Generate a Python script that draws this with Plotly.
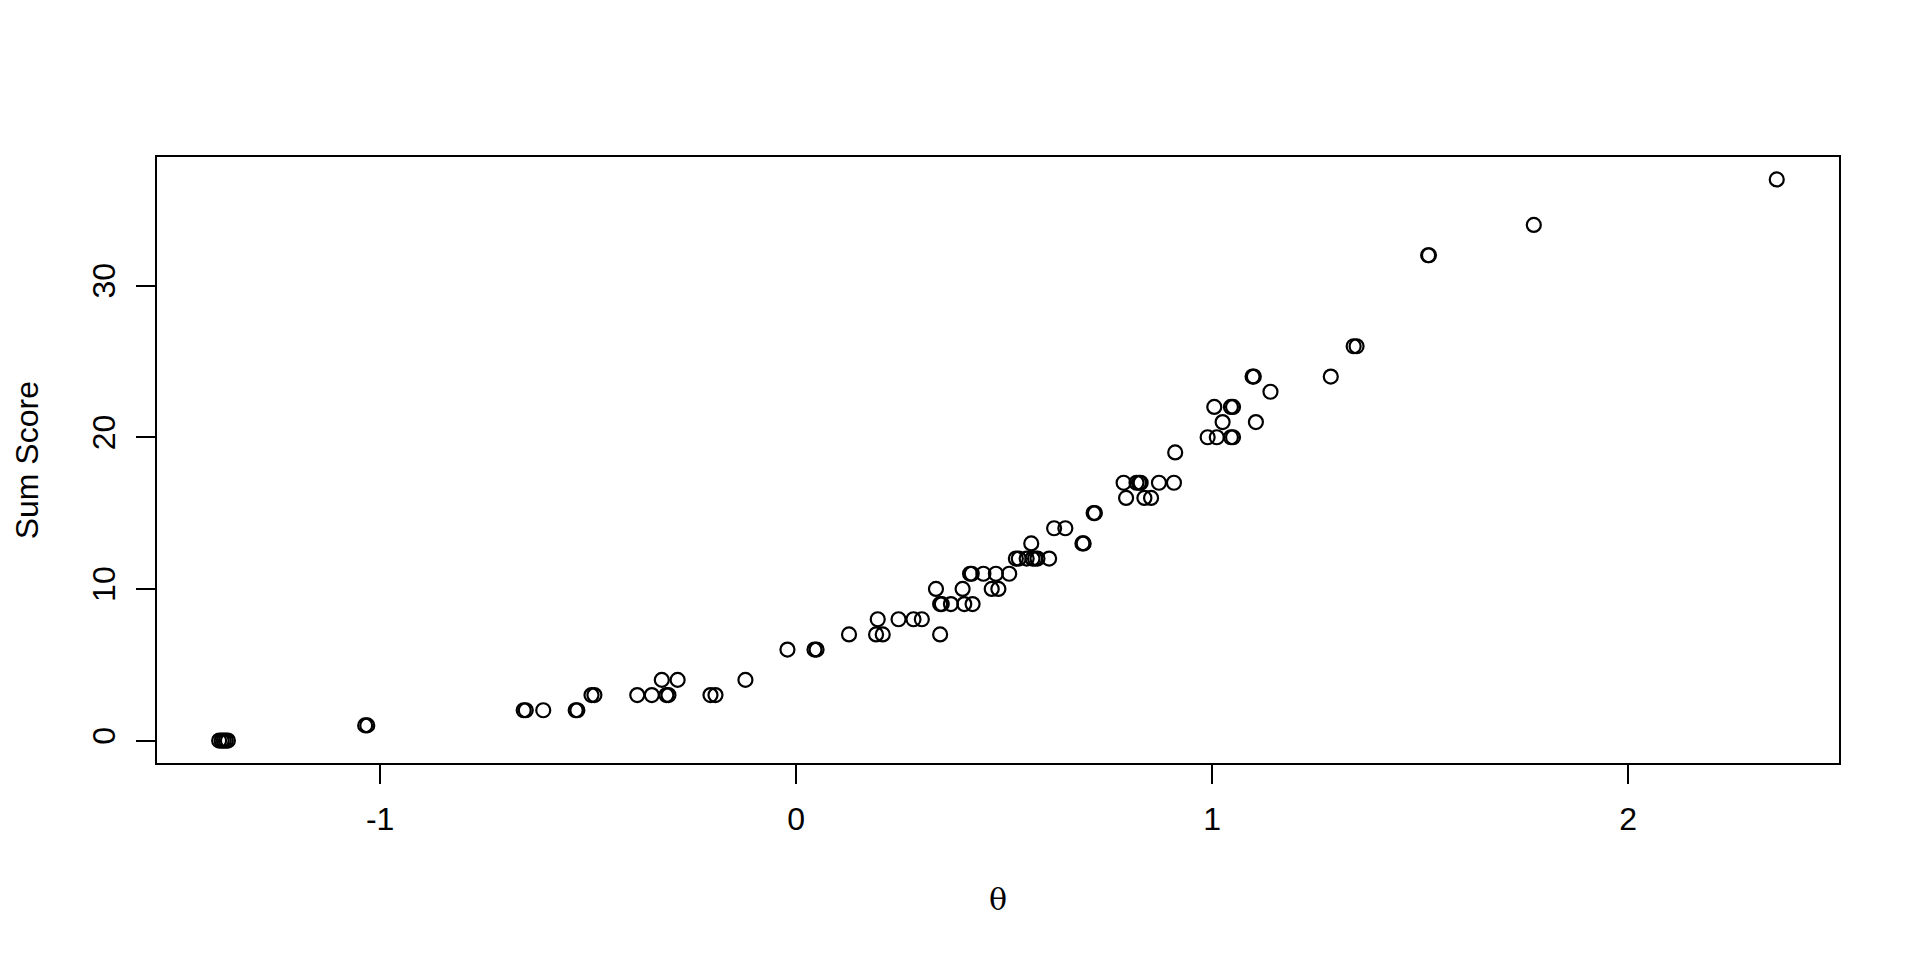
import plotly.graph_objects as go

# theta estimates (x) and corresponding sum scores (y)
theta = [
    -1.387, -1.381, -1.376, -1.371, -1.366,
    -1.036, -1.031,
    -0.655, -0.650, -0.608, -0.530, -0.526,
    -0.492, -0.485, -0.382, -0.347, -0.312, -0.307, -0.206, -0.194,
    -0.323, -0.285, -0.122,
    -0.021, 0.044, 0.049,
    0.127, 0.192, 0.208, 0.346,
    0.196, 0.246, 0.282, 0.302,
    0.346, 0.350, 0.372, 0.404, 0.424,
    0.336, 0.400, 0.470, 0.486,
    0.418, 0.422, 0.450, 0.480, 0.512,
    0.528, 0.535, 0.554, 0.568, 0.574, 0.580, 0.608,
    0.565, 0.688, 0.691,
    0.620, 0.647,
    0.715, 0.718,
    0.793, 0.837, 0.853,
    0.787, 0.818, 0.824, 0.828, 0.872, 0.908,
    0.911,
    0.989, 1.011, 1.045, 1.050,
    1.025, 1.105,
    1.005, 1.045, 1.050,
    1.140,
    1.097, 1.100, 1.285,
    1.340, 1.347,
    1.519, 1.521,
    1.773,
    2.357,
]
sum_score = [
    0, 0, 0, 0, 0,
    1, 1,
    2, 2, 2, 2, 2,
    3, 3, 3, 3, 3, 3, 3, 3,
    4, 4, 4,
    6, 6, 6,
    7, 7, 7, 7,
    8, 8, 8, 8,
    9, 9, 9, 9, 9,
    10, 10, 10, 10,
    11, 11, 11, 11, 11,
    12, 12, 12, 12, 12, 12, 12,
    13, 13, 13,
    14, 14,
    15, 15,
    16, 16, 16,
    17, 17, 17, 17, 17, 17,
    19,
    20, 20, 20, 20,
    21, 21,
    22, 22, 22,
    23,
    24, 24, 24,
    26, 26,
    32, 32,
    34,
    37,
]

x_ticks = [-1, 0, 1, 2]
y_ticks = [0, 10, 20, 30]
x_title = "θ"
y_title = "Sum Score"

# target plot area in page pixels (page body has an 8px margin)
OFF = 8
L, R, T, B = 156.7, 1839.0, 157.3, 763.3
W, H = 1920, 960

fig = go.Figure()
fig.add_trace(go.Scatter(
    x=theta, y=sum_score, mode="markers",
    marker=dict(symbol="circle-open", size=14, color="black",
                line=dict(width=2.2, color="black")),
    hoverinfo="skip", showlegend=False,
))

axis_common = dict(
    showgrid=False, zeroline=False, showline=True, mirror=True,
    linecolor="black", linewidth=2, ticks="outside", ticklen=19,
    tickwidth=2, tickcolor="black",
    tickfont=dict(family="Liberation Sans, Arial, sans-serif", size=32, color="black"),
)

fig.update_layout(
    width=W, height=H,
    margin=dict(l=L - OFF, r=W - R + OFF, t=T - OFF, b=H - B + OFF, pad=0),
    paper_bgcolor="white", plot_bgcolor="white",
    xaxis=dict(range=[-1.5364, 2.5066], tickvals=x_ticks,
               ticktext=[str(v) for v in x_ticks], ticklabelstandoff=8, **axis_common),
    yaxis=dict(range=[-1.48, 38.48], tickvals=y_ticks,
               ticktext=[str(v) for v in y_ticks], tickangle=-90, ticklabelstandoff=8,
               **axis_common),
    annotations=[
        dict(text=x_title, xref="paper", yref="paper",
             x=(998 - L) / (R - L), y=(B - 900) / (B - T),
             showarrow=False, xanchor="center", yanchor="middle",
             font=dict(family="DejaVu Serif, Liberation Serif, serif", size=30, color="black")),
        dict(text=y_title, xref="paper", yref="paper",
             x=(27 - L) / (R - L), y=0.5, textangle=-90,
             showarrow=False, xanchor="center", yanchor="middle",
             font=dict(family="Liberation Sans, Arial, sans-serif", size=32, color="black")),
    ],
)

fig.write_html("out.html")
